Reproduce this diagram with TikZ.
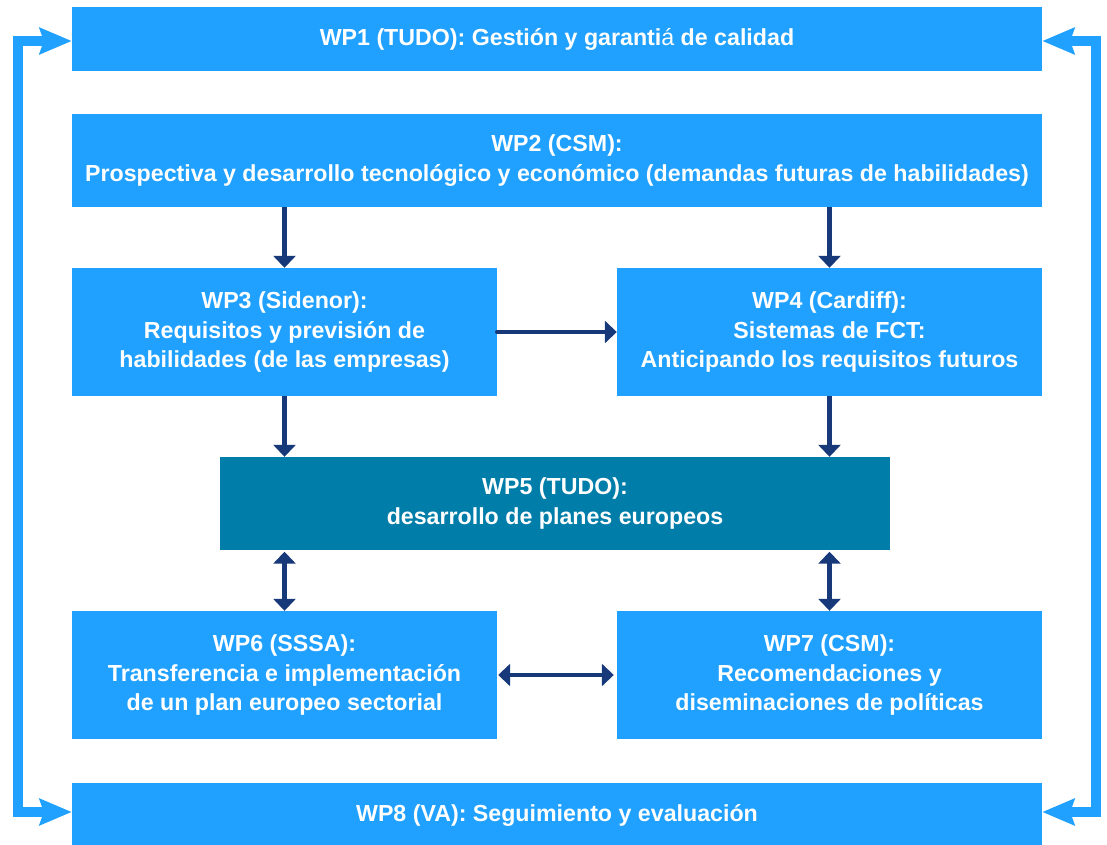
\documentclass[tikz,border=0pt]{standalone}
\usepackage{fontspec}
\setmainfont{Liberation Sans}
\usetikzlibrary{arrows.meta}
\definecolor{lblue}{RGB}{33,161,255}
\definecolor{teal5}{RGB}{0,125,168}
\definecolor{navy}{RGB}{23,57,122}
\tikzset{
  box/.style={fill=lblue, draw=none, text=white, align=center, inner sep=0pt,
    font=\fontsize{23.2bp}{29.5bp}\selectfont\bfseries},
  wide/.style={box, minimum width=970bp},
  half/.style={box, minimum width=425bp, minimum height=128bp},
  darr/.style={draw=navy, line width=4.5bp, -{Triangle[length=12bp,width=22bp]}},
  dbarr/.style={draw=navy, line width=4.5bp, {Triangle[length=12bp,width=22bp]}-{Triangle[length=12bp,width=22bp]}},
  barr/.style={draw=lblue, line width=10bp, line join=miter,
    {Stealth[length=32bp,width=26bp,inset=4bp]}-{Stealth[length=32bp,width=26bp,inset=4bp]}}
}
\begin{document}
\begin{tikzpicture}[x=1bp,y=-1bp]
\useasboundingbox (0,0) rectangle (1107,845);
\node[wide, minimum height=64bp] (wp1) at (557,39) {WP1 (TUDO): Gestión y garanti{\mdseries á} de calidad};
\node[wide, minimum height=93bp] (wp2) at (557,160.5) {WP2 (CSM):\\Prospectiva y desarrollo tecnológico y económico (demandas futuras de habilidades)};
\node[half] (wp3) at (284.5,332) {WP3 (Sidenor):\\Requisitos y previsión de\\habilidades (de las empresas)};
\node[half] (wp4) at (829.5,332) {WP4 (Cardiff):\\Sistemas de FCT:\\Anticipando los requisitos futuros};
\node[box, fill=teal5, minimum width=670bp, minimum height=93bp] (wp5) at (555,503.5) {WP5 (TUDO):\\desarrollo de planes europeos};
\node[half] (wp6) at (284.5,675) {WP6 (SSSA):\\Transferencia e implementación\\de un plan europeo sectorial};
\node[half] (wp7) at (829.5,675) {WP7 (CSM):\\Recomendaciones y\\diseminaciones de políticas};
\node[wide, minimum height=64bp] (wp8) at (557,815) {WP8 (VA): Seguimiento y evaluación};

\draw[darr] (wp3.north |- wp2.south) -- (wp3.north);
\draw[darr] (wp4.north |- wp2.south) -- (wp4.north);
\draw[darr, line cap=round] (wp3.east) -- (wp4.west);
\draw[darr] (wp3.south) -- (wp3.south |- wp5.north);
\draw[darr] (wp4.south) -- (wp4.south |- wp5.north);
\draw[dbarr, shorten <=1.5bp] (wp6.north |- wp5.south) -- (wp6.north);
\draw[dbarr, shorten <=1.5bp] (wp7.north |- wp5.south) -- (wp7.north);
\draw[dbarr, shorten <=1bp, shorten >=3bp] (wp6.east) -- (wp7.west);

\coordinate (l1) at ([yshift=-2bp]wp1.west);
\coordinate (l8) at ([yshift=3bp]wp8.west);
\coordinate (r1) at ([yshift=-2bp]wp1.east);
\coordinate (r8) at ([yshift=3bp]wp8.east);
\draw[barr] (l1) -- ++(-54,0) |- (l8);
\draw[barr] (r1) -- ++(54,0) |- (r8);
\end{tikzpicture}
\end{document}
